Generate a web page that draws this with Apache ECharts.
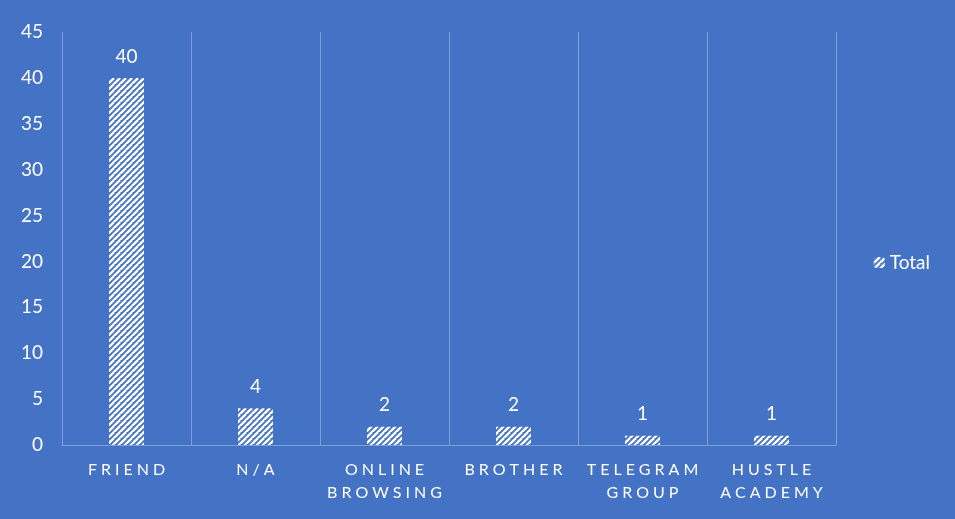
<!DOCTYPE html>
<html>
<head>
<meta charset="utf-8">
<script src="https://cdn.jsdelivr.net/npm/echarts@6/dist/echarts.min.js"></script>
<style>
  html, body { margin: 0; padding: 0; background: #4472c4; }
  #chart { width: 955px; height: 519px; }
</style>
</head>
<body>
<div id="chart"></div>
<script>
// categories and values
const categories = ['FRIEND', 'N/A', 'ONLINE BROWSING', 'BROTHER', 'TELEGRAM GROUP', 'HUSTLE ACADEMY']
const totals = [40, 4, 2, 2, 1, 1]
const yTicks = { min: 0, max: 45, interval: 5 }

// diagonal white hatch, like the Excel pattern fill
function hatch() {
    const c = document.createElement('canvas')
    c.width = 6
    c.height = 6
    const ctx = c.getContext('2d')
    ctx.fillStyle = '#4472c4'
    ctx.fillRect(0, 0, 6, 6)
    ctx.strokeStyle = '#ffffff'
    ctx.lineWidth = 2.4
    for (let k = -6; k <= 12; k += 6) {
        ctx.beginPath()
        ctx.moveTo(k - 6, 12)
        ctx.lineTo(k + 6, 0)
        ctx.stroke()
    }
    return c
}

const spaced = (s) => s.split(' ').map(w => w.split('').join('\u2009\u200a\u200a')).join('\n')

const chart = echarts.init(document.getElementById('chart'))
const font = 'Lato, "Open Sans", sans-serif'
chart.setOption({
    backgroundColor: '#4472c4',
    textStyle: { fontFamily: font },
    grid: { left: 62, right: 119, top: 32, bottom: 74 },
    legend: {
        right: 20,
        top: 248,
        itemWidth: 11,
        itemHeight: 11,
        itemGap: 6,
        textStyle: { color: '#ffffff', fontSize: 19, fontFamily: font },
        data: ['Total'],
    },
    xAxis: {
        type: 'category',
        data: categories,
        axisLine: { lineStyle: { color: '#7f9fd8', width: 1 } },
        axisTick: { show: false },
        splitLine: { show: true, lineStyle: { color: '#7f9fd8', width: 1 } },
        axisLabel: {
            color: '#ffffff',
            fontSize: 16,
            margin: 13,
            lineHeight: 23,
            interval: 0,
            formatter: spaced,
        },
    },
    yAxis: {
        type: 'value',
        min: yTicks.min,
        max: yTicks.max,
        interval: yTicks.interval,
        axisLine: { show: false },
        axisTick: { show: false },
        splitLine: { show: false },
        axisLabel: { color: '#ffffff', fontSize: 19, margin: 19 },
    },
    series: [
        {
            name: 'Total',
            type: 'bar',
            data: totals,
            barWidth: 35,
            itemStyle: { color: { image: hatch(), repeat: 'repeat' } },
            label: {
                show: true,
                position: 'top',
                distance: 12,
                color: '#ffffff',
                fontSize: 19,
            },
        },
    ],
})
window.addEventListener('resize', () => chart.resize())
</script>
</body>
</html>
